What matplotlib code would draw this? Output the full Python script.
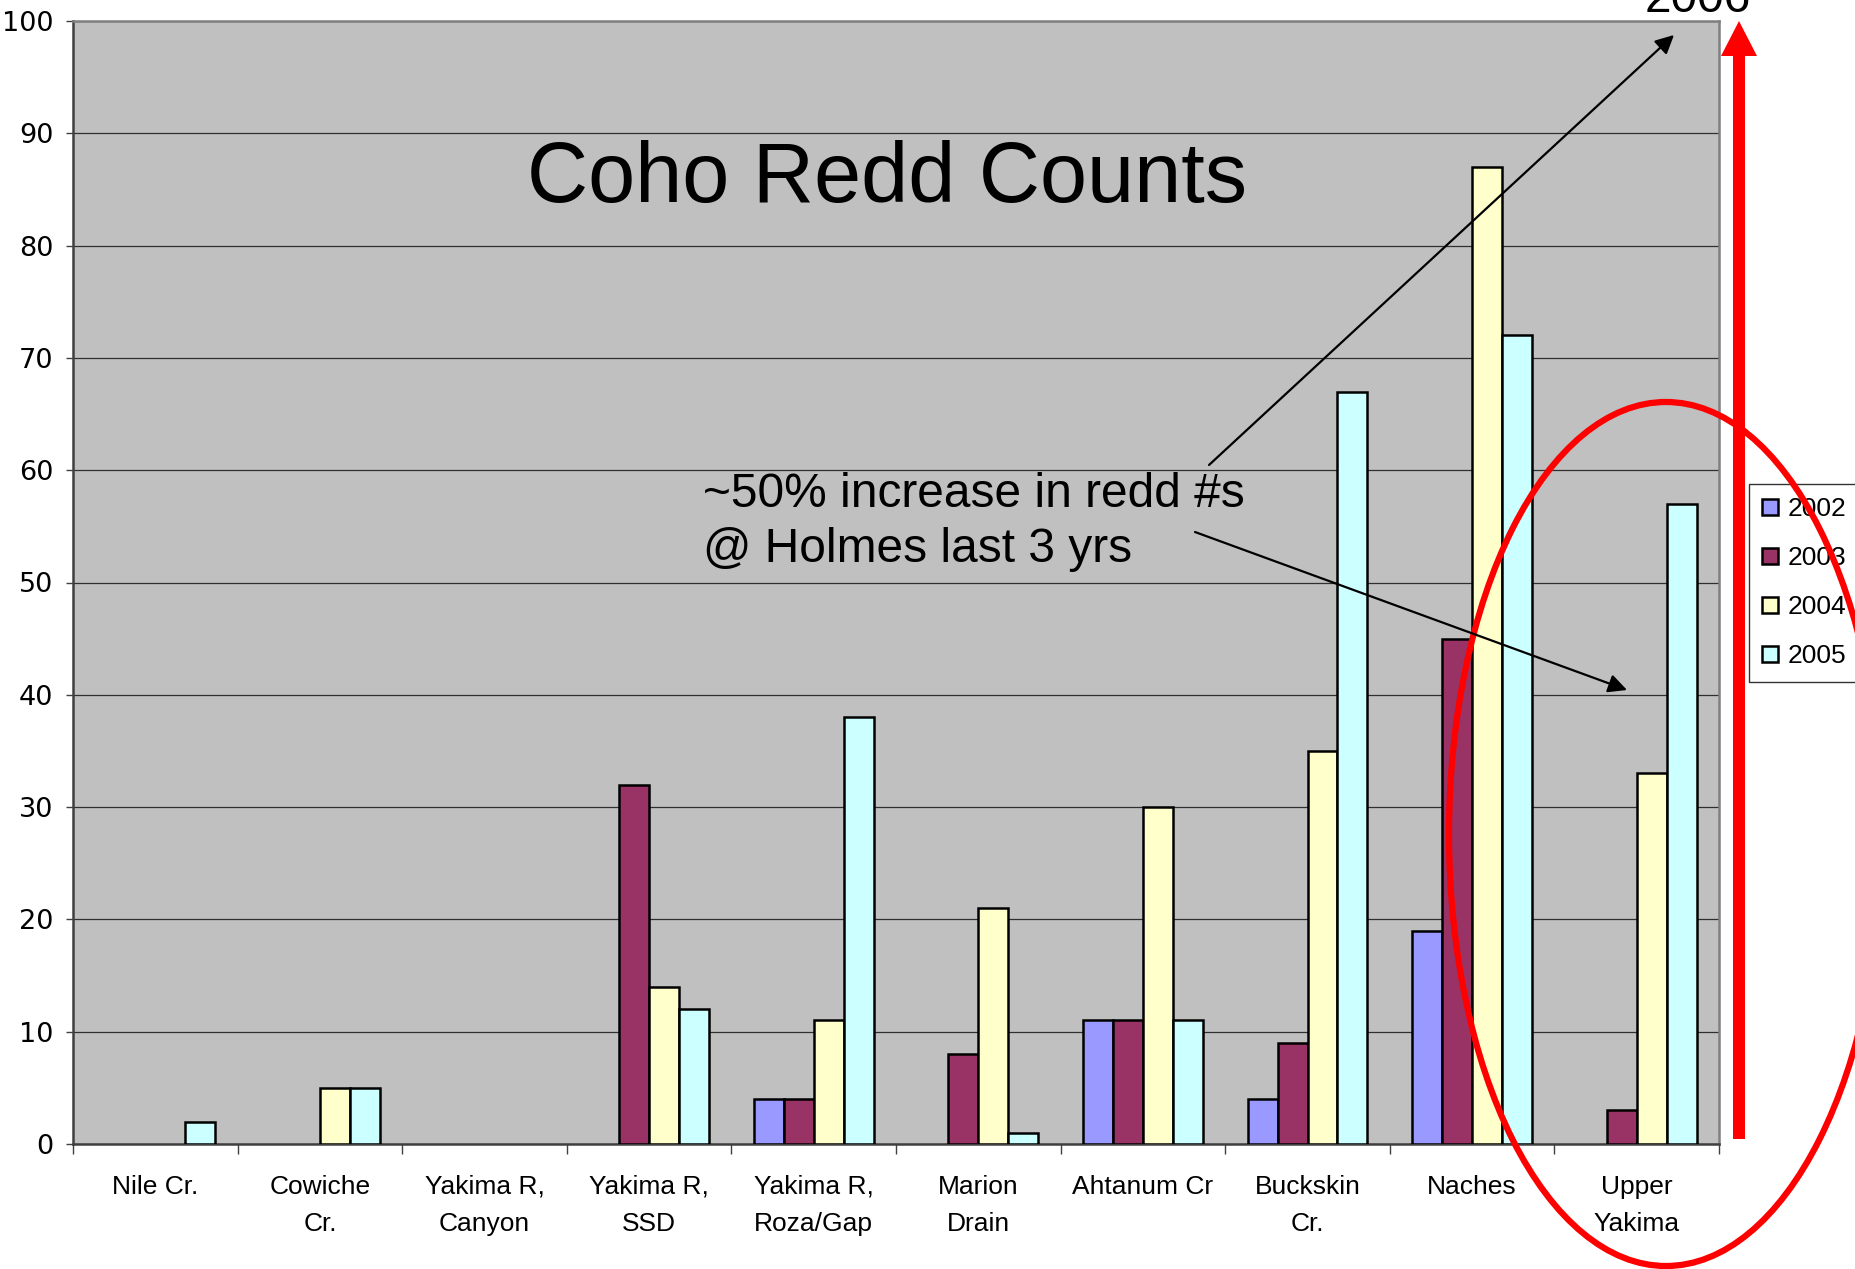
import numpy as np
import matplotlib
matplotlib.use('Agg')
import matplotlib.pyplot as plt
from matplotlib.patches import Ellipse, FancyArrow

ANCHO_PX = 1855
ALTO_PX  = 1269
DPI      = 100

sitios = ['Nile Cr.', 'Cowiche\nCr.', 'Yakima R,\nCanyon', 'Yakima R,\nSSD',
          'Yakima R,\nRoza/Gap', 'Marion\nDrain', 'Ahtanum Cr', 'Buckskin\nCr.',
          'Naches', 'Upper\nYakima']
anios = ['2002', '2003', '2004', '2005']

nan = np.nan
redd_2002 = [nan, nan, nan, nan, 4, nan, 11, 4, 19, nan]
redd_2003 = [nan, nan, nan, 32, 4, 8, 11, 9, 45, 3]
redd_2004 = [nan, 5, nan, 14, 11, 21, 30, 35, 87, 33]
redd_2005 = [2, 5, nan, 12, 38, 1, 11, 67, 72, 57]
series = [redd_2002, redd_2003, redd_2004, redd_2005]

colores = ['#9999FF', '#993366', '#FFFFCC', '#CCFFFF']

plt.rcParams['font.family'] = ['Liberation Sans', 'DejaVu Sans']

fig = plt.figure(figsize=(ANCHO_PX / DPI, ALTO_PX / DPI), dpi=DPI)
fig.patch.set_facecolor('white')

# area del grafico (px medidos sobre la imagen)
izq, der, arr, aba = 73, 1719, 21, 1144
ax = fig.add_axes([izq / ANCHO_PX, 1 - aba / ALTO_PX,
                   (der - izq) / ANCHO_PX, (aba - arr) / ALTO_PX])
ax.set_facecolor('#C0C0C0')

x = np.arange(len(sitios))
ancho = 1 / 5.5
for i, (vals, col, anio) in enumerate(zip(series, colores, anios)):
    desp = (i - 1.5) * ancho
    ax.bar(x + desp, np.array(vals, dtype=float), width=ancho, color=col,
           edgecolor='black', linewidth=1.8, label=anio, zorder=3)

ax.set_xlim(-0.5, len(sitios) - 0.5)
ax.set_ylim(0, 100)
ax.set_yticks(range(0, 101, 10))
ax.yaxis.grid(True, color='#303030', linewidth=0.9, zorder=0)

ax.set_xticks(x)
ax.set_xticklabels(sitios, fontsize=19, linespacing=1.7)
ax.set_xticks(np.arange(len(sitios) + 1) - 0.5, minor=True)
ax.tick_params(axis='x', which='major', length=0, pad=22)
ax.tick_params(axis='x', which='minor', length=7, width=1, color='#404040')
ax.tick_params(axis='y', length=5, width=1, pad=9, color='#404040')
for t in ax.get_yticklabels():
    t.set_fontfamily('DejaVu Sans')
    t.set_fontsize(19.5)

ax.spines['left'].set_color('#404040')
ax.spines['bottom'].set_color('#404040')
ax.spines['top'].set_color('#808080')
ax.spines['right'].set_color('#808080')
for s in ax.spines.values():
    s.set_linewidth(1.8)

leg = ax.legend(loc='upper left', bbox_to_anchor=(1749 / ANCHO_PX, 1 - 484 / ALTO_PX),
                bbox_transform=fig.transFigure, fontsize=19, frameon=True,
                fancybox=False, borderaxespad=0, borderpad=0.5,
                handlelength=0.6, handleheight=0.6, handletextpad=0.35,
                labelspacing=0.95)
leg.get_frame().set_edgecolor('black')
leg.get_frame().set_linewidth(1.0)
for h in leg.legend_handles:
    h.set_linewidth(1.8)

# capa superior en pixeles para anotaciones
capa = fig.add_axes([0, 0, 1, 1], facecolor='none')
capa.set_xlim(0, ANCHO_PX)
capa.set_ylim(ALTO_PX, 0)
capa.axis('off')

capa.text(887, 180, 'Coho Redd Counts', fontsize=61, ha='center', va='center')
capa.text(703, 522, '~50% increase in redd #s\n@ Holmes last 3 yrs', fontsize=34.5,
          ha='left', va='center', linespacing=1.3)
capa.text(1698, 12, '2006', fontsize=34.5, ha='center', va='baseline')

flecha = dict(arrowstyle='-|>', color='black', lw=1.6, mutation_scale=28,
              shrinkA=0, shrinkB=0)
capa.annotate('', xy=(1674, 35), xytext=(1209, 465), arrowprops=flecha)
capa.annotate('', xy=(1627, 690), xytext=(1195, 532), arrowprops=flecha)

capa.add_patch(FancyArrow(1739, 1139, 0, 21 - 1139, width=12, head_width=36,
                          head_length=35, length_includes_head=True,
                          color='#FF0000', linewidth=0))
capa.add_patch(Ellipse((1666, 834), 434, 864, fill=False, edgecolor='#FF0000',
                       linewidth=4.5))

fig.savefig('out.png', dpi=DPI)
